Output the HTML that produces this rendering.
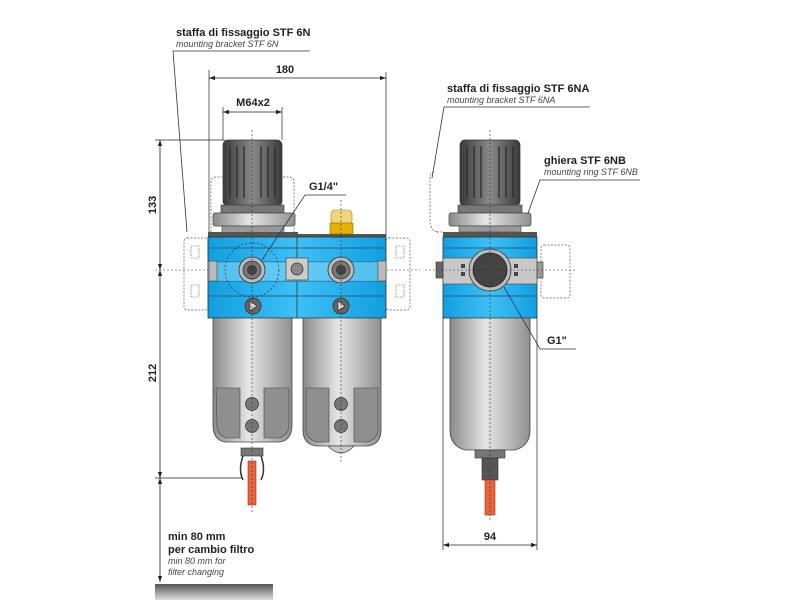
<!DOCTYPE html>
<html><head><meta charset="utf-8"><style>
html,body{margin:0;padding:0;background:#fff;}
svg{display:block;}
text{font-family:"Liberation Sans",sans-serif;fill:#222;}
.b{font-weight:bold;font-size:11px;}
.i{font-style:italic;font-size:9px;fill:#444;}
</style></head><body>
<svg width="800" height="600" viewBox="0 0 800 600" xmlns="http://www.w3.org/2000/svg">
<defs>
<linearGradient id="gr" x1="0" x2="1"><stop offset="0" stop-color="#8a8a8a"/><stop offset="0.45" stop-color="#e6e6e6"/><stop offset="1" stop-color="#909090"/></linearGradient>
<linearGradient id="kn" x1="0" x2="1"><stop offset="0" stop-color="#3a3a3a"/><stop offset="0.5" stop-color="#8a8a8a"/><stop offset="1" stop-color="#3a3a3a"/></linearGradient>
<linearGradient id="bl" x1="0" x2="1"><stop offset="0" stop-color="#0f9fe0"/><stop offset="0.5" stop-color="#3fc0f5"/><stop offset="1" stop-color="#0f9fe0"/></linearGradient>
<linearGradient id="bar" x1="0" y1="0" x2="0" y2="1"><stop offset="0" stop-color="#555"/><stop offset="1" stop-color="#ddd"/></linearGradient>
<marker id="a" viewBox="0 0 10 10" refX="10" refY="5" markerWidth="12" markerHeight="6" markerUnits="userSpaceOnUse" orient="auto-start-reverse"><path d="M0,1.5 L10,5 L0,8.5z" fill="#222"/></marker>
</defs>

<text class="b" x="176" y="36">staffa di fissaggio STF 6N</text>
<text class="i" x="176" y="47">mounting bracket STF 6N</text>
<polyline points="310,51 173,51 187,232" fill="none" stroke="#333" stroke-width="0.8"/>

<text class="b" x="447" y="92">staffa di fissaggio STF 6NA</text>
<text class="i" x="447" y="103">mounting bracket STF 6NA</text>
<polyline points="590,107 444,107 432,178" fill="none" stroke="#333" stroke-width="0.8"/>

<text class="b" x="544" y="164">ghiera STF 6NB</text>
<text class="i" x="544" y="175">mounting ring STF 6NB</text>
<polyline points="640,180 540,180 527,216" fill="none" stroke="#333" stroke-width="0.8"/>

<line x1="209" y1="78" x2="386" y2="78" stroke="#222" stroke-width="0.8" marker-start="url(#a)" marker-end="url(#a)"/>
<text class="b" x="285" y="73" text-anchor="middle">180</text>
<line x1="209" y1="70" x2="209" y2="235" stroke="#222" stroke-width="0.7"/>
<line x1="386" y1="72" x2="386" y2="237" stroke="#222" stroke-width="0.7"/>
<line x1="223" y1="112" x2="282" y2="112" stroke="#222" stroke-width="0.8" marker-start="url(#a)" marker-end="url(#a)"/>
<text class="b" x="253" y="106" text-anchor="middle">M64x2</text>
<line x1="223" y1="107" x2="223" y2="140" stroke="#222" stroke-width="0.7"/>
<line x1="282" y1="107" x2="282" y2="140" stroke="#222" stroke-width="0.7"/>

<line x1="155" y1="140" x2="225" y2="140" stroke="#222" stroke-width="0.7"/>
<line x1="160" y1="140" x2="160" y2="270" stroke="#222" stroke-width="0.8" marker-start="url(#a)" marker-end="url(#a)"/>
<line x1="160" y1="270" x2="160" y2="478" stroke="#222" stroke-width="0.8" marker-start="url(#a)" marker-end="url(#a)"/>
<line x1="160" y1="478" x2="160" y2="582" stroke="#222" stroke-width="0.8" marker-start="url(#a)" marker-end="url(#a)"/>
<line x1="155" y1="478" x2="242" y2="478" stroke="#222" stroke-width="0.7"/>
<text class="b" x="0" y="0" transform="translate(156,205) rotate(-90)" text-anchor="middle">133</text>
<text class="b" x="0" y="0" transform="translate(156,373) rotate(-90)" text-anchor="middle">212</text>
<line x1="155" y1="270" x2="420" y2="270" stroke="#333" stroke-width="0.6" stroke-dasharray="2,2"/>

<text class="b" x="168" y="540">min 80 mm</text>
<text class="b" x="168" y="553">per cambio filtro</text>
<text class="i" x="168" y="564">min 80 mm for</text>
<text class="i" x="168" y="575">filter changing</text>
<rect x="155" y="584" width="118" height="16" fill="url(#bar)"/>

<rect x="184" y="238" width="24" height="72" rx="3" fill="none" stroke="#555" stroke-width="0.7" stroke-dasharray="2,1.5"/>
<rect x="386" y="238" width="24" height="72" rx="3" fill="none" stroke="#555" stroke-width="0.7" stroke-dasharray="2,1.5"/>
<path d="M211,232 V182 Q211,177 216,177 H222 M283,177 H289 Q294,177 294,182 V232" fill="none" stroke="#555" stroke-width="0.7" stroke-dasharray="2,1.5"/>
<rect x="223" y="140" width="59" height="66" rx="5" fill="url(#kn)" stroke="#333" stroke-width="0.7"/>
<g stroke="#2b2b2b" stroke-width="1.3"><line x1="230" y1="146" x2="230" y2="198"/><line x1="237" y1="146" x2="237" y2="198"/><line x1="244" y1="146" x2="244" y2="198"/><line x1="261" y1="146" x2="261" y2="198"/><line x1="268" y1="146" x2="268" y2="198"/><line x1="275" y1="146" x2="275" y2="198"/></g>
<rect x="221" y="205" width="63" height="8" fill="#777" stroke="#333" stroke-width="0.6"/>
<rect x="213" y="213" width="82" height="13" rx="2" fill="url(#gr)" stroke="#444" stroke-width="0.7"/>
<rect x="222" y="226" width="62" height="7" fill="#999" stroke="#444" stroke-width="0.6"/>
<rect x="208" y="232" width="90" height="5" fill="#555"/>
<rect x="298" y="234" width="88" height="3" fill="#555"/>
<rect x="331" y="210" width="21" height="14" rx="4" fill="#f1d77a" stroke="#a08020" stroke-width="0.6"/>
<rect x="330" y="223" width="23" height="11" fill="#e8b000" stroke="#8a6a00" stroke-width="0.6"/>
<rect x="208" y="237" width="178" height="81" fill="url(#bl)" stroke="#333" stroke-width="0.8"/>
<line x1="297" y1="237" x2="297" y2="318" stroke="#333" stroke-width="0.8"/>
<g stroke="#2a6f99" stroke-width="1.2" fill="none"><line x1="208" y1="248" x2="386" y2="248"/><line x1="208" y1="262" x2="386" y2="262"/><line x1="208" y1="281" x2="386" y2="281"/><line x1="208" y1="296" x2="386" y2="296"/></g>
<rect x="208" y="262" width="178" height="19" fill="#7fd3f5" opacity="0.6"/>
<rect x="209" y="261" width="8" height="20" fill="#bbb" stroke="#444" stroke-width="0.6"/>
<rect x="378" y="261" width="8" height="20" fill="#bbb" stroke="#444" stroke-width="0.6"/>
<circle cx="252" cy="270" r="27" fill="none" stroke="#333" stroke-width="0.7" stroke-dasharray="2,2"/>
<rect x="286" y="258" width="22" height="22" fill="#ccc" stroke="#444" stroke-width="0.7"/>
<circle cx="297" cy="269" r="6" fill="#888" stroke="#333" stroke-width="0.7"/>
<g stroke="#333" stroke-width="0.8"><circle cx="252" cy="270" r="13" fill="#bbb"/><circle cx="252" cy="270" r="9" fill="#777"/><circle cx="252" cy="270" r="4.5" fill="#444"/>
<circle cx="341" cy="270" r="13" fill="#bbb"/><circle cx="341" cy="270" r="9" fill="#777"/><circle cx="341" cy="270" r="4.5" fill="#444"/></g>
<g stroke="#333" stroke-width="0.8"><circle cx="253" cy="306" r="8" fill="#666"/><circle cx="341" cy="306" r="8" fill="#666"/></g>
<path d="M250,301 L257,306 L250,311z M338,301 L345,306 L338,311z" fill="#ddd" stroke="#222" stroke-width="0.6"/>
<g fill="none" stroke="#555" stroke-width="0.6" stroke-dasharray="1.5,1"><rect x="191" y="246" width="8" height="12"/><rect x="191" y="285" width="8" height="12"/><rect x="396" y="246" width="8" height="12"/><rect x="396" y="285" width="8" height="12"/></g>
<path d="M213,318 H292 V425 Q292,440 280,442 H225 Q213,440 213,425z" fill="url(#gr)" stroke="#444" stroke-width="0.8"/>
<path d="M216,388 H240 V438 H226 Q217,434 217,425z M264,388 H289 V425 Q289,434 280,438 H264z" fill="#8f8f8f" stroke="#444" stroke-width="0.6"/>
<circle cx="252" cy="404" r="6.5" fill="#777" stroke="#333" stroke-width="0.7"/>
<circle cx="252" cy="426" r="6.5" fill="#777" stroke="#333" stroke-width="0.7"/>
<rect x="241" y="448" width="22" height="8" fill="#777" stroke="#333" stroke-width="0.6"/>
<path d="M243,456 Q238,470 243,480 M261,456 Q266,470 261,480" fill="none" stroke="#333" stroke-width="1.5"/>
<rect x="248" y="461" width="8" height="44" fill="#e8643c" stroke="#a03010" stroke-width="0.6"/>
<path d="M303,318 H381 V430 Q381,444 368,446 H316 Q303,444 303,430z" fill="url(#gr)" stroke="#444" stroke-width="0.8"/>
<path d="M306,388 H329 V442 H316 Q306,438 306,430z M354,388 H378 V430 Q378,438 368,442 H354z" fill="#8f8f8f" stroke="#444" stroke-width="0.6"/>
<circle cx="341" cy="404" r="6.5" fill="#777" stroke="#333" stroke-width="0.7"/>
<circle cx="341" cy="426" r="6.5" fill="#777" stroke="#333" stroke-width="0.7"/>
<path d="M328,446 Q341,460 354,446z" fill="#ccc" stroke="#444" stroke-width="0.7"/>
<line x1="252" y1="130" x2="252" y2="512" stroke="#333" stroke-width="0.6" stroke-dasharray="2,2"/>
<line x1="341" y1="200" x2="341" y2="462" stroke="#333" stroke-width="0.6" stroke-dasharray="2,2"/>
<text class="b" x="309" y="190">G1/4"</text>
<polyline points="346,195 305,195 262,260" fill="none" stroke="#333" stroke-width="0.8"/>

<path d="M437,232 Q430,230 430,220 V178 Q430,172 434,172 M437,232 H444" fill="none" stroke="#555" stroke-width="0.7" stroke-dasharray="2,1.5"/>
<rect x="541" y="245" width="29" height="53" rx="3" fill="none" stroke="#555" stroke-width="0.7" stroke-dasharray="2,1.5"/>
<rect x="460" y="140" width="60" height="66" rx="5" fill="url(#kn)" stroke="#333" stroke-width="0.7"/>
<g stroke="#2b2b2b" stroke-width="1.3"><line x1="467" y1="146" x2="467" y2="198"/><line x1="474" y1="146" x2="474" y2="198"/><line x1="481" y1="146" x2="481" y2="198"/><line x1="499" y1="146" x2="499" y2="198"/><line x1="506" y1="146" x2="506" y2="198"/><line x1="513" y1="146" x2="513" y2="198"/></g>
<rect x="458" y="205" width="64" height="8" fill="#777" stroke="#333" stroke-width="0.6"/>
<rect x="449" y="213" width="82" height="13" rx="2" fill="url(#gr)" stroke="#444" stroke-width="0.7"/>
<rect x="459" y="226" width="62" height="6" fill="#999" stroke="#444" stroke-width="0.6"/>
<rect x="443" y="232" width="94" height="5" fill="#555"/>
<rect x="443" y="237" width="94" height="81" fill="url(#bl)" stroke="#333" stroke-width="0.8"/>
<rect x="443" y="258" width="94" height="26" fill="#c8c8c8" stroke="#444" stroke-width="0.6"/>
<rect x="436" y="262" width="7" height="16" fill="#666" stroke="#333" stroke-width="0.6"/>
<rect x="537" y="262" width="6" height="16" fill="#999" stroke="#333" stroke-width="0.6"/>
<g fill="#444"><rect x="461" y="264" width="4" height="4"/><rect x="461" y="272" width="4" height="4"/><rect x="514" y="264" width="4" height="4"/><rect x="514" y="272" width="4" height="4"/></g>
<line x1="443" y1="296" x2="537" y2="296" stroke="#2a6f99" stroke-width="1.2"/>
<line x1="443" y1="248" x2="537" y2="248" stroke="#2a6f99" stroke-width="1.2"/>
<circle cx="490" cy="270" r="21" fill="#bbb" stroke="#333" stroke-width="0.8"/>
<circle cx="490" cy="270" r="17" fill="#444" stroke="#222" stroke-width="0.8"/>
<path d="M450,318 H530 V430 Q530,446 515,450 H465 Q450,446 450,430z" fill="url(#gr)" stroke="#444" stroke-width="0.8"/>
<rect x="475" y="450" width="30" height="8" fill="#777" stroke="#333" stroke-width="0.6"/>
<rect x="482" y="458" width="16" height="22" fill="#555" stroke="#333" stroke-width="0.6"/>
<rect x="485" y="480" width="10" height="35" fill="#e8643c" stroke="#a03010" stroke-width="0.6"/>
<line x1="490" y1="130" x2="490" y2="522" stroke="#333" stroke-width="0.6" stroke-dasharray="2,2"/>
<line x1="425" y1="270" x2="575" y2="270" stroke="#333" stroke-width="0.6" stroke-dasharray="2,2"/>
<text class="b" x="547" y="344">G1"</text>
<polyline points="576,349 540,349 504,287" fill="none" stroke="#333" stroke-width="0.8"/>
<line x1="443" y1="318" x2="443" y2="550" stroke="#222" stroke-width="0.7"/>
<line x1="537" y1="318" x2="537" y2="550" stroke="#222" stroke-width="0.7"/>
<line x1="443" y1="545" x2="537" y2="545" stroke="#222" stroke-width="0.8" marker-start="url(#a)" marker-end="url(#a)"/>
<text class="b" x="490" y="540" text-anchor="middle">94</text>
</svg>
</body></html>
